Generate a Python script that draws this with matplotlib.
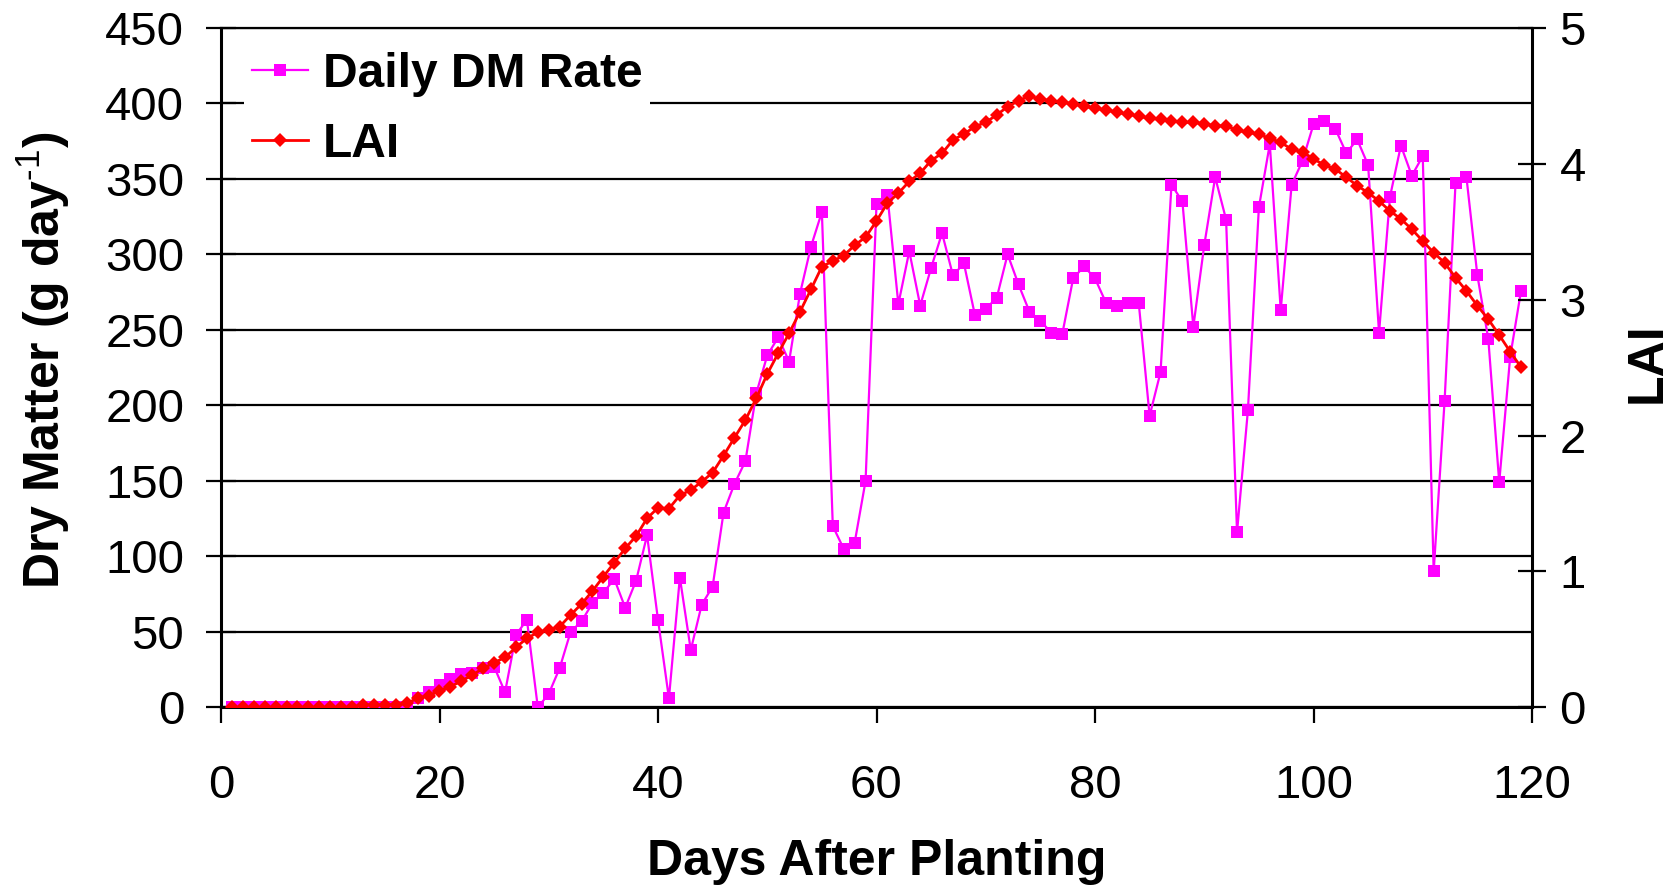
import matplotlib
matplotlib.use("Agg")
import matplotlib.pyplot as plt
import numpy as np

plt.rcParams['font.family'] = ['Liberation Sans', 'DejaVu Sans']
plt.rcParams['mathtext.fontset'] = 'custom'
plt.rcParams['mathtext.rm'] = 'Liberation Sans'
plt.rcParams['mathtext.bf'] = 'Liberation Sans:bold'

# Days after planting
days = list(range(1, 120))

# Daily dry matter accumulation rate (g day^-1)
dm_rate = [
    0, 0, 0, 0, 0, 0, 0, 0, 0, 0, 0, 0, 0, 0, 0, 0, 0,          # days 1-17
    6, 10, 15, 19, 22, 23, 26, 27, 10, 48,                       # 18-27
    58, 0, 9, 26, 50, 57, 69, 76, 85, 66,                        # 28-37
    84, 114, 58, 6, 86, 38, 68, 80, 129, 148,                    # 38-47
    163, 208, 233, 245, 229, 274, 305, 328, 120, 105,            # 48-57
    109, 150, 333, 339, 267, 302, 266, 291, 314, 286,            # 58-67
    294, 260, 264, 271, 300, 280, 262, 256, 248, 247,            # 68-77
    284, 292, 284, 268, 266, 268, 268, 193, 222, 346,            # 78-87
    335, 252, 306, 351, 323, 116, 197, 331, 373, 263,            # 88-97
    346, 362, 386, 388, 383, 367, 376, 359, 248, 338,            # 98-107
    372, 352, 365, 90, 203, 347, 351, 286, 244, 149,             # 108-117
    232, 276,                                                    # 118-119
]

# Leaf area index
lai = [
    0, 0, 0, 0, 0, 0, 0, 0, 0, 0, 0, 0,                          # days 1-12
    0.02, 0.02, 0.02, 0.02, 0.03, 0.067, 0.086, 0.123,           # 13-20
    0.152, 0.194, 0.238, 0.288, 0.329, 0.368, 0.442, 0.508,      # 21-28
    0.552, 0.569, 0.594, 0.68, 0.761, 0.856, 0.962, 1.065,       # 29-36
    1.17, 1.261, 1.391, 1.468, 1.462, 1.56, 1.599, 1.66,         # 37-44
    1.727, 1.852, 1.984, 2.114, 2.274, 2.453, 2.605, 2.752,      # 45-52
    2.911, 3.075, 3.242, 3.284, 3.323, 3.40, 3.459, 3.578,       # 53-60
    3.71, 3.782, 3.87, 3.93, 4.023, 4.076, 4.174, 4.218,         # 61-68
    4.272, 4.304, 4.358, 4.419, 4.463, 4.498, 4.473, 4.463,      # 69-76
    4.452, 4.44, 4.422, 4.407, 4.395, 4.378, 4.363, 4.35,        # 77-84
    4.333, 4.326, 4.316, 4.304, 4.304, 4.293, 4.278, 4.278,      # 85-92
    4.245, 4.23, 4.216, 4.186, 4.157, 4.105, 4.088, 4.034,       # 93-100
    3.99, 3.96, 3.9, 3.838, 3.786, 3.725, 3.652, 3.593,          # 101-108
    3.517, 3.431, 3.345, 3.271, 3.161, 3.063, 2.955, 2.855,      # 109-116
    2.739, 2.617, 2.502,                                         # 117-119
]

x_ticks = [0, 20, 40, 60, 80, 100, 120]
dm_ticks = [0, 50, 100, 150, 200, 250, 300, 350, 400, 450]
lai_ticks = [0, 1, 2, 3, 4, 5]

W, H = 1673, 891
fig = plt.figure(figsize=(W / 100, H / 100), dpi=100)
ax = fig.add_axes([221 / W, 1 - 707.4 / H, (1532 - 221) / W, (707.4 - 27.7) / H])
ax2 = ax.twinx()

magenta = '#FF00FF'
red = '#FF0000'

h1, = ax.plot(days, dm_rate, color=magenta, lw=1.6, marker='s', ms=9,
              mec=magenta, mfc=magenta, mew=0, label='Daily DM Rate', zorder=3)
h2, = ax2.plot(days, lai, color=red, lw=2.0, marker='D', ms=7.6,
               mec=red, mfc=red, mew=0, label='LAI', zorder=3)

ax.set_xlim(0, 120)
ax.set_ylim(0, 450)
ax2.set_ylim(0, 5)
ax.set_xticks(x_ticks)
ax.set_yticks(dm_ticks)
ax2.set_yticks(lai_ticks)

grid_lw = 1.6
ax.yaxis.grid(True, color='black', linewidth=grid_lw)
ax.set_axisbelow(True)

for a in (ax, ax2):
    for s in a.spines.values():
        s.set_visible(False)
ax.spines['left'].set_visible(True)
ax.spines['left'].set_linewidth(2.2)
ax.spines['bottom'].set_visible(True)
ax.spines['bottom'].set_linewidth(2.2)
ax.spines['top'].set_visible(True)
ax.spines['top'].set_linewidth(grid_lw)
ax2.spines['right'].set_visible(True)
ax2.spines['right'].set_linewidth(2.2)

tick_fs = 34
ax.tick_params(axis='x', direction='out', length=11.5, width=1.6,
               pad=29, labelsize=tick_fs)
ax.tick_params(axis='y', direction='inout', length=21, width=1.6,
               pad=16, labelsize=tick_fs)
ax2.tick_params(axis='y', direction='inout', length=19.5, width=1.6,
                pad=10, labelsize=tick_fs)

label_fs = 36
fig.text(876.5 / W, 1 - 862 / H, 'Days After Planting', ha='center', va='center',
         fontsize=label_fs, fontweight='bold')
fig.text(43 / W, 1 - 360 / H, 'Dry Matter (g day$^{\u2010\\mathrm{1}}$)', ha='center',
         va='center', rotation=90, fontsize=label_fs, fontweight='bold')
fig.text(1648 / W, 1 - 363 / H, 'LAI', ha='center', va='center', rotation=90,
         fontsize=label_fs, fontweight='bold')

leg = ax2.legend(handles=[h1, h2], loc='upper left',
                 bbox_to_anchor=(244.5 / W, 1 - 45 / H), bbox_transform=fig.transFigure,
                 borderaxespad=0, borderpad=0.15, handlelength=1.18,
                 handletextpad=0.31, labelspacing=0.52,
                 prop={'weight': 'bold', 'size': 34.5},
                 frameon=True, fancybox=False, framealpha=1)
leg.get_frame().set_facecolor('white')
leg.get_frame().set_edgecolor('none')

fig.savefig('out.png', dpi=100)
